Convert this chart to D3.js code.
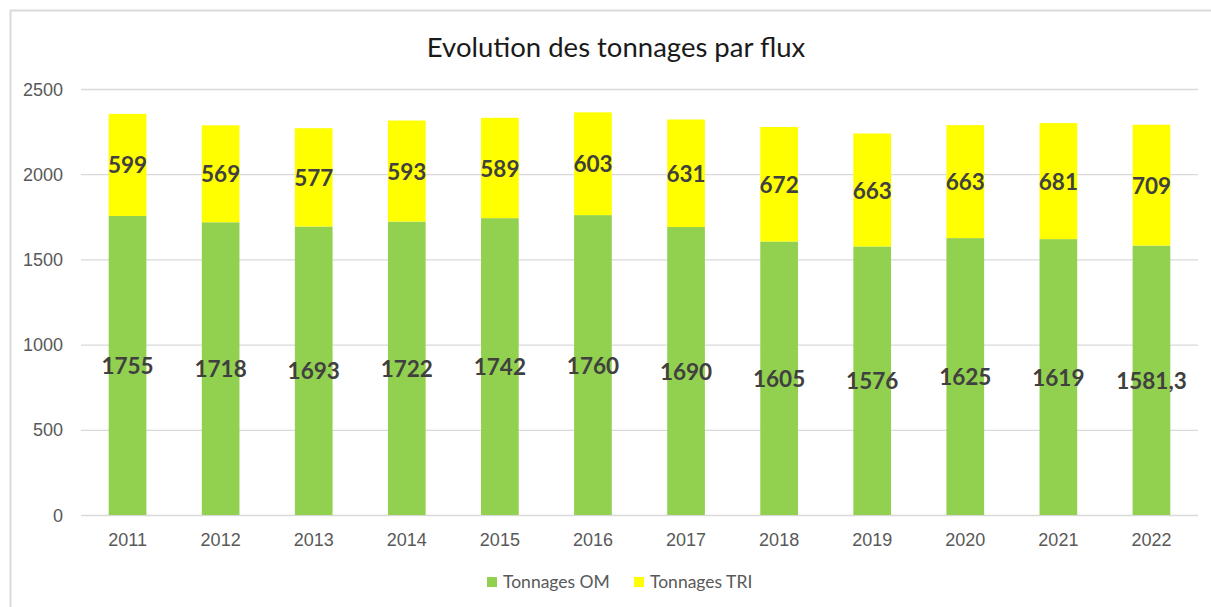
<!DOCTYPE html>
<html>
<head>
<meta charset="utf-8">
<script src="https://cdn.jsdelivr.net/npm/d3@7"></script>
<style>
  body { margin: 0; background: #fff; }
  svg { display: block; font-family: Lato, Carlito, Calibri, sans-serif; }
</style>
</head>
<body>
<svg class="chart" width="1211" height="607"></svg>
<script>
// data
let years = ['2011', '2012', '2013', '2014', '2015', '2016', '2017', '2018', '2019', '2020', '2021', '2022'];
let tonnagesOM = [1755, 1718, 1693, 1722, 1742, 1760, 1690, 1605, 1576, 1625, 1619, 1581.3];
let tonnagesTRI = [599, 569, 577, 593, 589, 603, 631, 672, 663, 663, 681, 709];
let yTicks = [0, 500, 1000, 1500, 2000, 2500];
let seriesNames = ['Tonnages OM', 'Tonnages TRI'];
let seriesColors = ['#92D050', '#FFFF00'];

let width = 1211;
let height = 607;
let margin = { left: 81, right: 12, top: 89, bottom: 92 };

let svg = d3.select('svg.chart');

// chart frame (only top and left edges show in the crop)
svg.append('path')
  .attr('d', 'M10.5,' + height + 'V10.5H' + width)
  .style('fill', 'none')
  .style('stroke', '#d9d9d9')
  .style('stroke-width', 2);

// title
svg.append('text')
  .attr('x', 616)
  .attr('y', 57)
  .attr('text-anchor', 'middle')
  .style('font-size', '27.5px')
  .style('fill', '#1a1a1a')
  .text('Evolution des tonnages par flux');

let x = d3.scaleBand()
  .domain(years)
  .range([margin.left, width - margin.right - 1])
  .paddingInner(0.595)
  .paddingOuter(0.2975);

let y = d3.scaleLinear()
  .domain([0, 2500])
  .range([height - margin.bottom, margin.top]);

// gridlines + y labels
let yAxis = d3.axisLeft(y)
  .tickValues(yTicks)
  .tickFormat(d3.format('d'))
  .tickSize(-(x.range()[1] - x.range()[0]))
  .tickPadding(18);

let gY = svg.append('g')
  .attr('transform', `translate(${margin.left},0)`)
  .call(yAxis);
gY.select('.domain').remove();
gY.selectAll('.tick line').style('stroke', '#d9d9d9').style('stroke-width', 1.3);
gY.selectAll('.tick text')
  .style('font-size', '18px')
  .style('fill', '#595959')
  .attr('dy', '0.34em');

// x labels
let xAxis = d3.axisBottom(x).tickSize(0).tickPadding(18);
let gX = svg.append('g')
  .attr('transform', `translate(0,${y(0)})`)
  .call(xAxis);
gX.select('.domain').remove();
gX.selectAll('.tick text')
  .style('font-size', '18px')
  .style('fill', '#595959');

// stack the two series
let rows = years.map((yr, i) => ({ year: yr, om: tonnagesOM[i], tri: tonnagesTRI[i] }));
let stacked = d3.stack().keys(['om', 'tri'])(rows);

let layers = svg.append('g')
  .selectAll('g')
  .data(stacked)
  .enter()
  .append('g')
  .style('fill', (d, i) => seriesColors[i]);

layers.selectAll('rect')
  .data(d => d)
  .enter()
  .append('rect')
  .attr('x', d => x(d.data.year))
  .attr('y', d => y(d[1]))
  .attr('width', x.bandwidth())
  .attr('height', d => y(d[0]) - y(d[1]));

// value labels centred in each segment
let fmt = v => String(v).replace('.', ',');
layers.selectAll('text')
  .data(d => d.map(s => ({ s: s, key: d.key })))
  .enter()
  .append('text')
  .attr('x', d => x(d.s.data.year) + x.bandwidth() / 2)
  .attr('y', d => (y(d.s[0]) + y(d.s[1])) / 2)
  .attr('dy', '0.38em')
  .attr('text-anchor', 'middle')
  .style('font-size', '22.5px')
  .style('font-weight', 'bold')
  .style('fill', '#404040')
  .text(d => fmt(d.s.data[d.key]));

// legend
let legend = svg.append('g');
let legendX = [487, 634];
seriesNames.forEach((name, i) => {
  legend.append('rect')
    .attr('x', legendX[i])
    .attr('y', 577)
    .attr('width', 10)
    .attr('height', 10)
    .style('fill', seriesColors[i]);
  legend.append('text')
    .attr('x', legendX[i] + 16)
    .attr('y', 582)
    .attr('dy', '0.35em')
    .style('font-size', '17.5px')
    .style('fill', '#595959')
    .text(name);
});
</script>
</body>
</html>
